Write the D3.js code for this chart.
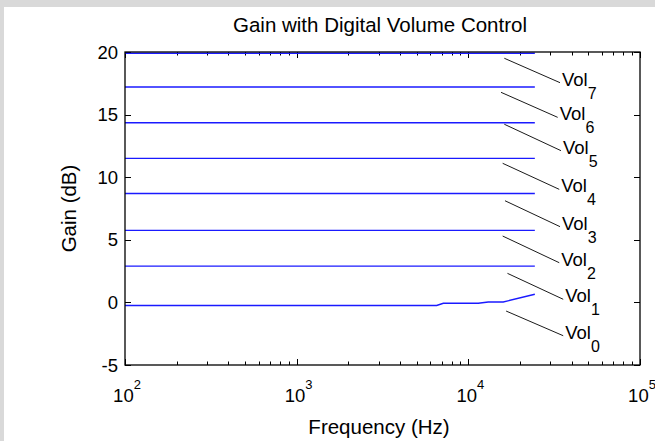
<!DOCTYPE html>
<html>
<head>
<meta charset="utf-8">
<script src="https://cdn.jsdelivr.net/npm/d3@7"></script>
<style>
  html, body { margin: 0; padding: 0; background: #fff; }
  svg { display: block; font-family: "Liberation Sans", Arial, sans-serif; }
</style>
</head>
<body>
<div id="chart"></div>
<script>
// Flat series: start and end frequency (Hz) and the gain (dB) of each volume step
const flatFreqs = [100, 24400];
const flatGains = [19.9, 17.2, 14.35, 11.5, 8.7, 5.75, 2.9]; // Vol7 .. Vol1

// Vol0 is not quite flat at the top end
const vol0Freqs = [100, 6540, 7150, 11430, 13060, 15960, 24400];
const vol0Gains = [-0.25, -0.25, -0.07, -0.07, 0.03, 0.03, 0.65];

// Labels with their leader lines (data units)
const labelNames = ['7', '6', '5', '4', '3', '2', '1', '0'];
const leadStartFreq = [16200, 15500, 16200, 15850, 16350, 15850, 16900, 16600];
const leadStartGain = [19.5, 16.78, 14.23, 11.11, 8.12, 5.3, 2.32, -0.69];
const leadEndFreq = [34200, 33150, 34650, 33850, 34200, 33850, 35700, 35700];
const leadEndGain = [17.55, 14.78, 12.12, 9.03, 6.05, 3.17, 0.25, -2.66];

const yTicks = [-5, 0, 5, 10, 15, 20];
const xDecades = [2, 3, 4, 5];

const W = 655, H = 441;
const margin = { top: 52, right: 15, bottom: 76, left: 125 };
const width = W - margin.left - margin.right;
const height = H - margin.top - margin.bottom;

const root = d3.select('#chart').append('svg')
  .attr('width', W)
  .attr('height', H);

// gray figure border (top and left)
root.append('rect').attr('x', 0).attr('y', 0).attr('width', W).attr('height', 7).attr('fill', '#d9d9d9');
root.append('rect').attr('x', 0).attr('y', 0).attr('width', 4).attr('height', H).attr('fill', '#d9d9d9');

const svg = root.append('g').attr('transform', `translate(${margin.left},${margin.top})`);

const x = d3.scaleLog().domain([100, 100000]).range([0, width]);
const y = d3.scaleLinear().domain([-5, 20]).range([height, 0]);

// minor log ticks
const minorTicks = [];
for (let d = 2; d < 5; d++) {
  for (let k = 2; k <= 9; k++) minorTicks.push(k * Math.pow(10, d));
}

const tickG = svg.append('g').attr('stroke', '#000').attr('stroke-width', 1);
minorTicks.forEach((f) => {
  const px = Math.round(x(f)) + 0.5;
  tickG.append('line').attr('x1', px).attr('x2', px).attr('y1', height).attr('y2', height - 3.5);
  tickG.append('line').attr('x1', px).attr('x2', px).attr('y1', 0).attr('y2', 3.5);
});
xDecades.forEach((d) => {
  const px = Math.round(x(Math.pow(10, d))) + 0.5;
  tickG.append('line').attr('x1', px).attr('x2', px).attr('y1', height).attr('y2', height - 6);
  tickG.append('line').attr('x1', px).attr('x2', px).attr('y1', 0).attr('y2', 6);
});
yTicks.forEach((v) => {
  const py = Math.round(y(v)) + 0.5;
  tickG.append('line').attr('x1', 0).attr('x2', 6).attr('y1', py).attr('y2', py);
  tickG.append('line').attr('x1', width).attr('x2', width - 6).attr('y1', py).attr('y2', py);
});

// series
const line = d3.line().x((d) => x(d[0])).y((d) => y(d[1]));

flatGains.forEach((g) => {
  svg.append('path')
    .datum(flatFreqs.map((f) => [f, g]))
    .attr('fill', 'none')
    .attr('stroke', '#1a1aff')
    .attr('stroke-width', 1.4)
    .attr('d', line);
});
svg.append('path')
  .datum(vol0Freqs.map((f, i) => [f, vol0Gains[i]]))
  .attr('fill', 'none')
  .attr('stroke', '#1a1aff')
  .attr('stroke-width', 1.4)
  .attr('d', line);

// leader lines + labels
labelNames.forEach((n, i) => {
  const x1 = x(leadStartFreq[i]), y1 = y(leadStartGain[i]);
  const x2 = x(leadEndFreq[i]), y2 = y(leadEndGain[i]);
  svg.append('line')
    .attr('x1', x1).attr('y1', y1).attr('x2', x2).attr('y2', y2)
    .attr('stroke', '#000').attr('stroke-width', 0.9);
  const t = svg.append('text')
    .attr('x', x2 + 2)
    .attr('y', y2 + 3)
    .attr('font-size', 18.5)
    .attr('fill', '#000');
  t.append('tspan').text('Vol');
  t.append('tspan').attr('dy', 13).attr('font-size', 16).text(n);
});

// box
svg.append('rect')
  .attr('x', 0).attr('y', 0).attr('width', width).attr('height', height)
  .attr('fill', 'none').attr('stroke', '#000').attr('stroke-width', 1.3);

// y tick labels
yTicks.forEach((v) => {
  svg.append('text')
    .attr('x', -7)
    .attr('y', y(v) + 6.5)
    .attr('text-anchor', 'end')
    .attr('font-size', 18.5)
    .text(v);
});

// x tick labels 10^d
xDecades.forEach((d) => {
  const t = svg.append('text')
    .attr('x', x(Math.pow(10, d)) + 2)
    .attr('y', 402 - margin.top)
    .attr('text-anchor', 'middle')
    .attr('font-size', 18.5);
  t.append('tspan').text('10');
  t.append('tspan').attr('dy', -13).attr('font-size', 13).text(d);
});

// title and axis labels
root.append('text')
  .attr('x', 380).attr('y', 32)
  .attr('text-anchor', 'middle')
  .attr('font-size', 20.5)
  .text('Gain with Digital Volume Control');

root.append('text')
  .attr('x', 379).attr('y', 434)
  .attr('text-anchor', 'middle')
  .attr('font-size', 20.5)
  .text('Frequency (Hz)');

root.append('text')
  .attr('transform', `translate(76,${margin.top + height / 2}) rotate(-90)`)
  .attr('text-anchor', 'middle')
  .attr('font-size', 20.5)
  .text('Gain (dB)');
</script>
</body>
</html>
